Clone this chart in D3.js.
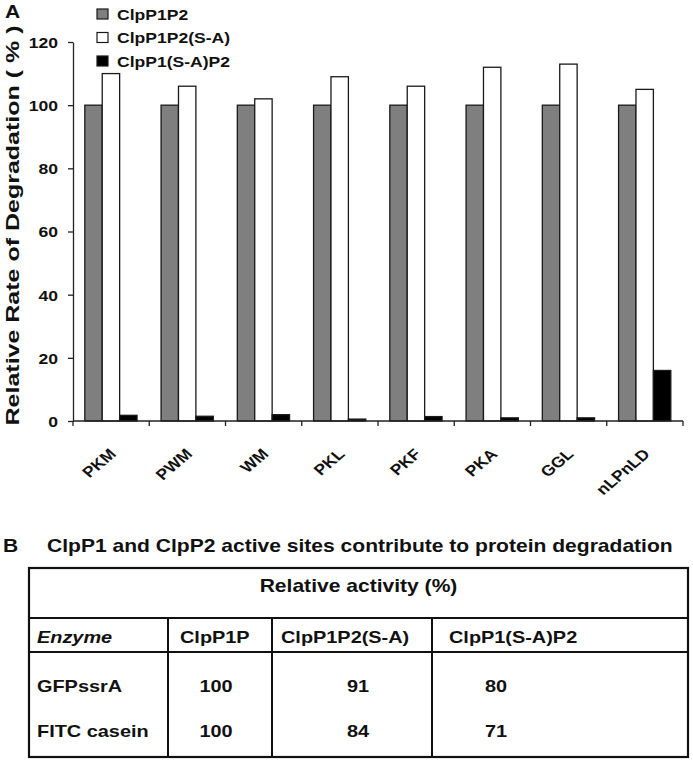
<!DOCTYPE html>
<html lang="en">
<head>
  <meta charset="UTF-8">
  <title>ClpP degradation</title>
  <script src="https://d3js.org/d3.v7.min.js"></script>
  <style>
    body { margin: 0; background: #fff; }
    svg text { font-family: "Liberation Sans", Arial, sans-serif; font-weight: bold; fill: #111; }
  </style>
</head>
<body>
  <div id="chart"></div>

  <script>
    // Panel A data
    const categories = ["PKM", "PWM", "WM", "PKL", "PKF", "PKA", "GGL", "nLPnLD"];
    const seriesNames = ["ClpP1P2", "ClpP1P2(S-A)", "ClpP1(S-A)P2"];
    const clpP1P2 = [100, 100, 100, 100, 100, 100, 100, 100];
    const clpP1P2SA = [110, 106, 102, 109, 106, 112, 113, 105];
    const clpP1SAP2 = [1.8, 1.5, 2, 0.6, 1.4, 1, 1, 16];
    const yTicks = [0, 20, 40, 60, 80, 100, 120];

    // Panel B data
    const tableTitle = "ClpP1 and ClpP2 active sites contribute to protein degradation";
    const tableHeader = ["Enzyme", "ClpP1P", "ClpP1P2(S-A)", "ClpP1(S-A)P2"];
    const substrates = ["GFPssrA", "FITC casein"];
    const actClpP1P = [100, 100];
    const actClpP1P2SA = [91, 84];
    const actClpP1SAP2 = [80, 71];

    const colors = ["#7f7f7f", "#ffffff", "#000000"];
    const SX = 1.17; // the figure is a bit wider than tall

    const svg = d3.select("#chart").append("svg")
      .attr("width", 693)
      .attr("height", 760);

    // text that is stretched sideways like the original
    function label(parent, x, y, txt, size, anchor) {
      return parent.append("text")
        .attr("transform", `translate(${x},${y}) scale(${SX},1)`)
        .attr("text-anchor", anchor || "start")
        .style("font-size", size + "px")
        .text(txt);
    }

    // ---------- Panel A ----------
    const x = d3.scaleBand()
      .domain(categories)
      .range([73, 683]);

    const x1 = d3.scaleBand()
      .domain(seriesNames)
      .range([x.bandwidth() * 0.155, x.bandwidth() * 0.84]);

    const y = d3.scaleLinear()
      .domain([0, 120])
      .range([421, 42]);

    const rows = categories.map((c, i) => ({
      cat: c,
      vals: [clpP1P2[i], clpP1P2SA[i], clpP1SAP2[i]]
    }));

    const groups = svg.append("g").selectAll("g")
      .data(rows)
      .enter().append("g")
      .attr("transform", d => `translate(${x(d.cat)},0)`);

    groups.selectAll("rect")
      .data(d => d.vals.map((v, k) => ({ s: seriesNames[k], v: v, k: k })))
      .enter().append("rect")
      .attr("x", d => x1(d.s))
      .attr("y", d => y(d.v))
      .attr("width", x1.bandwidth())
      .attr("height", d => y(0) - y(d.v))
      .attr("fill", d => colors[d.k])
      .attr("stroke", "#1a1a1a")
      .attr("stroke-width", 1.3);

    // y axis
    const yAxis = svg.append("g")
      .attr("transform", "translate(73,0)")
      .call(d3.axisLeft(y).tickValues(yTicks).tickSize(5).tickSizeOuter(0));
    yAxis.select(".domain").attr("stroke", "#222").attr("stroke-width", 1.3);
    yAxis.selectAll(".tick line").attr("stroke", "#222").attr("stroke-width", 1.3);
    yAxis.selectAll(".tick text")
      .attr("x", 0)
      .attr("dy", "0.36em")
      .attr("transform", `translate(-15,0) scale(${SX},1)`)
      .style("font-size", "15px");

    // x axis: line with ticks between categories
    svg.append("line")
      .attr("x1", x.range()[0]).attr("x2", x.range()[1])
      .attr("y1", y(0)).attr("y2", y(0))
      .attr("stroke", "#222").attr("stroke-width", 1.3);

    const bounds = categories.map(c => x(c)).concat([x.range()[1]]);
    svg.append("g").selectAll("line")
      .data(bounds)
      .enter().append("line")
      .attr("x1", d => d).attr("x2", d => d)
      .attr("y1", y(0)).attr("y2", y(0) + 5)
      .attr("stroke", "#222").attr("stroke-width", 1.3);

    // category labels, rotated -45deg
    const xLabels = svg.append("g").selectAll("g")
      .data(categories)
      .enter().append("g")
      .attr("transform", d => `translate(${x(d) + x.bandwidth() / 2 + 6},${y(0) + 34}) scale(${SX},1)`);

    xLabels.append("text")
      .attr("transform", "rotate(-45)")
      .attr("text-anchor", "end")
      .style("font-size", "15px")
      .text(d => d);

    // y axis title
    const yTitle = svg.append("g")
      .attr("transform", `translate(19,${(y(0) + 20) / 2 + 5}) scale(${SX},1)`);
    yTitle.append("text")
      .attr("transform", "rotate(-90)")
      .attr("text-anchor", "middle")
      .style("font-size", "16px")
      .attr("textLength", 400)
      .attr("lengthAdjust", "spacingAndGlyphs")
      .text("Relative Rate of Degradation  ( % )");

    label(svg, 5, 18, "A", 18);

    // legend
    const legend = svg.append("g").selectAll("g")
      .data(seriesNames)
      .enter().append("g")
      .attr("transform", (d, i) => `translate(97,${14 + i * 23.5})`);

    legend.append("rect")
      .attr("x", 0).attr("y", -5)
      .attr("width", 11).attr("height", 10)
      .attr("fill", (d, i) => colors[i])
      .attr("stroke", "#1a1a1a").attr("stroke-width", 1.2);

    legend.each(function(d) {
      label(d3.select(this), 20, 5.5, d, 15);
    });

    // ---------- Panel B ----------
    label(svg, 3, 552, "B", 18);
    label(svg, 47, 552, tableTitle, 18);

    const tbl = svg.append("g");
    const L = 29, R = 688, T = 568, B = 757;
    const hLines = [618, 652];
    const vLines = [168, 272, 432];

    tbl.append("rect")
      .attr("x", L).attr("y", T)
      .attr("width", R - L).attr("height", B - T)
      .attr("fill", "none").attr("stroke", "#111").attr("stroke-width", 2.2);

    tbl.selectAll(".h").data(hLines).enter().append("line")
      .attr("x1", L).attr("x2", R)
      .attr("y1", d => d).attr("y2", d => d)
      .attr("stroke", "#111").attr("stroke-width", 2);

    tbl.selectAll(".v").data(vLines).enter().append("line")
      .attr("x1", d => d).attr("x2", d => d)
      .attr("y1", hLines[0]).attr("y2", B)
      .attr("stroke", "#111").attr("stroke-width", 2);

    label(tbl, (L + R) / 2, 592, "Relative activity (%)", 18, "middle");

    const headX = [37, 180, 281, 449];
    tableHeader.forEach((h, i) => {
      const t = label(tbl, headX[i], 643, h, 17);
      if (i === 0) t.style("font-style", "italic");
    });

    const rowY = [692, 737];
    const valX = [216, 358, 496];
    substrates.forEach((s, r) => {
      label(tbl, 37, rowY[r], s, 17);
      [actClpP1P[r], actClpP1P2SA[r], actClpP1SAP2[r]].forEach((v, c) => {
        label(tbl, valX[c], rowY[r], v, 17, "middle");
      });
    });
  </script>
</body>
</html>
